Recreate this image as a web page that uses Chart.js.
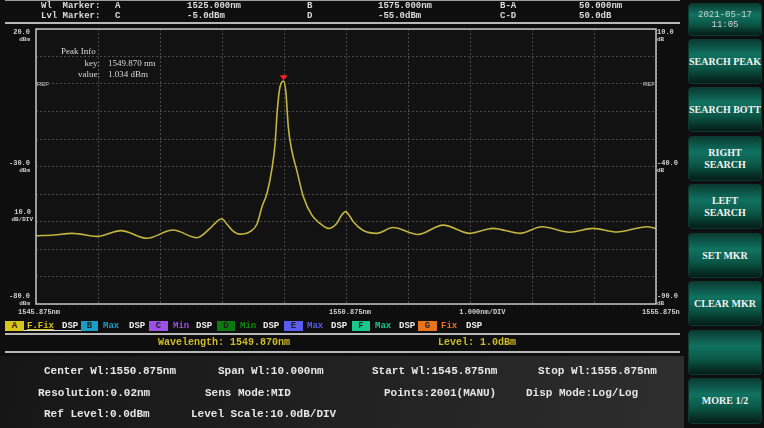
<!DOCTYPE html>
<html>
<head>
<meta charset="utf-8">
<script src="https://cdn.jsdelivr.net/npm/chart.js@4.4.0/dist/chart.umd.min.js"></script>
<style>
  html, body { margin: 0; padding: 0; }
  body { width: 764px; height: 428px; background: #0e0e0e; position: relative; overflow: hidden;
         font-family: "Liberation Mono", "DejaVu Sans Mono", monospace; color: #ddd; }
  .t { position: absolute; white-space: pre; font-weight: bold; line-height: 1; }
  .hdr { font-size: 9px; color: #dcdcdc; }
  .hline { position: absolute; height: 2px; background: #b8b8b8; }
  #chart { position: absolute; left: 0; top: 0; }
  .peak { position: absolute; font-family: "Liberation Serif", "DejaVu Serif", serif; font-size: 9px; color: #d8d8d8; line-height: 1; white-space: pre; }
  .box { position: absolute; top: 321px; height: 10px; font-size: 9px; font-weight: bold; text-align: center; line-height: 10px; color: #222; }
  .lg { position: absolute; top: 322px; font-size: 9px; font-weight: bold; line-height: 1; }
  #panel { position: absolute; left: 0; top: 356px; width: 684px; height: 72px;
           background: linear-gradient(100deg, #161616 0%, #202020 45%, #2e2e2e 100%); }
  .inf { font-size: 11px; color: #e6e6e6; }
  .btn { position: absolute; left: 688px; width: 74px; border-radius: 4px; box-sizing: border-box;
         border: 1px solid #0c3a30;
         background: linear-gradient(180deg, #0a3d33 0%, #107260 35%, #0b5747 65%, #041c17 100%);
         display: flex; align-items: center; justify-content: center; text-align: center;
         font-family: "Liberation Serif", "DejaVu Serif", serif; font-weight: bold; font-size: 10px;
         color: #f2f2f2; line-height: 12px; }
</style>
</head>
<body>
<canvas id="chart" width="680" height="330"></canvas>

<!-- header -->
<div class="hline" style="left:5px; top:0px; width:675px; height:1px; background:#9a9a9a;"></div>
<div class="t hdr" style="left:41px; top:2px;">Wl  Marker:</div>
<div class="t hdr" style="left:41px; top:12px;">Lvl Marker:</div>
<div class="t hdr" style="left:115px; top:2px;">A</div>
<div class="t hdr" style="left:115px; top:12px;">C</div>
<div class="t hdr" style="left:187px; top:2px;">1525.000nm</div>
<div class="t hdr" style="left:187px; top:12px;">-5.0dBm</div>
<div class="t hdr" style="left:307px; top:2px;">B</div>
<div class="t hdr" style="left:307px; top:12px;">D</div>
<div class="t hdr" style="left:378px; top:2px;">1575.000nm</div>
<div class="t hdr" style="left:378px; top:12px;">-55.0dBm</div>
<div class="t hdr" style="left:500px; top:2px;">B-A</div>
<div class="t hdr" style="left:500px; top:12px;">C-D</div>
<div class="t hdr" style="left:579px; top:2px;">50.000nm</div>
<div class="t hdr" style="left:579px; top:12px;">50.0dB</div>
<div class="hline" style="left:5px; top:22px; width:675px;"></div>

<!-- peak info -->
<div class="peak" style="left:61px; top:47px;">Peak Info</div>
<div class="peak" style="left:60px; top:59px; width:40px; text-align:right;">key:</div>
<div class="peak" style="left:108px; top:59px;">1549.870 nm</div>
<div class="peak" style="left:60px; top:70px; width:40px; text-align:right;">value:</div>
<div class="peak" style="left:108px; top:70px;">1.034 dBm</div>

<!-- trace legend row -->
<div class="box" style="left:5px; width:19px; background:#d8c41c;">A</div>
<div class="lg" style="left:27px; color:#d8c41c; text-decoration:underline;">F.Fix</div>
<div class="lg" style="left:62px; color:#eee;">DSP</div>
<div class="hline" style="left:24px; top:330px; width:57px; height:1px; background:#ddd;"></div>
<div class="box" style="left:81px; width:17px; background:#1a9ec8;">B</div>
<div class="lg" style="left:103px; color:#1a9ec8;">Max</div>
<div class="lg" style="left:129px; color:#eee;">DSP</div>
<div class="box" style="left:149px; width:19px; background:#9b50e6;">C</div>
<div class="lg" style="left:173px; color:#9b50e6;">Min</div>
<div class="lg" style="left:196px; color:#eee;">DSP</div>
<div class="box" style="left:217px; width:18px; background:#0c7a10;">D</div>
<div class="lg" style="left:240px; color:#0e8a12;">Min</div>
<div class="lg" style="left:263px; color:#eee;">DSP</div>
<div class="box" style="left:284px; width:19px; background:#5b5cf0;">E</div>
<div class="lg" style="left:307px; color:#5b5cf0;">Max</div>
<div class="lg" style="left:331px; color:#eee;">DSP</div>
<div class="box" style="left:352px; width:18px; background:#18c88c;">F</div>
<div class="lg" style="left:375px; color:#18c88c;">Max</div>
<div class="lg" style="left:399px; color:#eee;">DSP</div>
<div class="box" style="left:418px; width:19px; background:#e8741e;">G</div>
<div class="lg" style="left:441px; color:#e8741e;">Fix</div>
<div class="lg" style="left:466px; color:#eee;">DSP</div>
<div class="hline" style="left:5px; top:333px; width:675px;"></div>
<div class="t" style="left:158px; top:338px; font-size:10px; color:#cdbb2a;">Wavelength: 1549.870nm</div>
<div class="t" style="left:438px; top:338px; font-size:10px; color:#cdbb2a;">Level: 1.0dBm</div>
<div class="hline" style="left:5px; top:351px; width:675px;"></div>

<!-- settings panel -->
<div id="panel"></div>
<div class="t inf" style="left:44px; top:366px;">Center Wl:1550.875nm</div>
<div class="t inf" style="left:218px; top:366px;">Span Wl:10.000nm</div>
<div class="t inf" style="left:372px; top:366px;">Start Wl:1545.875nm</div>
<div class="t inf" style="left:538px; top:366px;">Stop Wl:1555.875nm</div>
<div class="t inf" style="left:38px; top:388px;">Resolution:0.02nm</div>
<div class="t inf" style="left:205px; top:388px;">Sens Mode:MID</div>
<div class="t inf" style="left:384px; top:388px;">Points:2001(MANU)</div>
<div class="t inf" style="left:526px; top:388px;">Disp Mode:Log/Log</div>
<div class="t inf" style="left:44px; top:409px;">Ref Level:0.0dBm</div>
<div class="t inf" style="left:191px; top:409px;">Level Scale:10.0dB/DIV</div>

<!-- soft keys -->
<div class="btn" style="top:3px; height:33px; font-family:'Liberation Mono',monospace; font-weight:normal; font-size:9px; color:#d0d0d0; line-height:10px;">2021-05-17<br>11:05</div>
<div class="btn" style="top:39px; height:45px;">SEARCH PEAK</div>
<div class="btn" style="top:87px; height:45px;">SEARCH BOTT</div>
<div class="btn" style="top:136px; height:45px;">RIGHT<br>SEARCH</div>
<div class="btn" style="top:184px; height:45px;">LEFT<br>SEARCH</div>
<div class="btn" style="top:233px; height:45px;">SET MKR</div>
<div class="btn" style="top:281px; height:45px;">CLEAR MKR</div>
<div class="btn" style="top:330px; height:45px;"></div>
<div class="btn" style="top:378px; height:46px;">MORE 1/2</div>

<script>
// trace A (wavelength in nm, level in dBm)
const wavelengths = [
  1545.875, 1546.165, 1546.456, 1546.859, 1547.246, 1547.665, 1548.085, 1548.472,
  1548.681, 1548.778, 1548.870, 1548.956, 1549.036, 1549.165, 1549.327, 1549.440,
  1549.520, 1549.601, 1549.677, 1549.730, 1549.767, 1549.811, 1549.870, 1549.907,
  1549.944, 1549.999, 1550.080, 1550.186, 1550.322, 1550.456, 1550.590, 1550.725,
  1550.806, 1550.870, 1550.939, 1550.993, 1551.154, 1551.370, 1551.633, 1552.036,
  1552.440, 1552.875, 1553.246, 1553.681, 1554.036, 1554.488, 1554.859, 1555.246,
  1555.730, 1555.875
];
const levels = [
  -55.2, -54.9, -54.3, -55.4, -53.3, -56.1, -53.1, -55.9,
  -52.5, -50.3, -49.0, -51.0, -53.1, -54.6, -53.7, -50.9,
  -44.6, -39.7, -31.3, -22.0, -9.5, -1.0, 1.034, -3.4,
  -15.5, -24.0, -31.3, -40.9, -47.6, -50.7, -52.5, -50.7,
  -47.6, -46.4, -48.2, -50.1, -53.3, -54.3, -52.2, -54.7,
  -51.3, -54.3, -52.5, -54.3, -51.9, -53.9, -52.5, -53.8,
  -51.9, -52.5
];
const peakWl = 1549.870;
const peakLevel = 1.034;

const startWl = 1545.875;
const stopWl = 1555.875;
const nmPerDiv = 1.0;
const refLevel = 20.0;   // top of screen, dBm
const bottomLevel = -80.0;
const dbPerDiv = 10.0;

const leftTicks = [20.0, -30.0, -80.0];   // dBm
const rightTicks = [10.0, -40.0, -90.0];  // dB
const xLabels = ["1545.875nm", "1550.875nm", "1555.875nm"];

const traceColor = "#c2b43e";
const labelColor = "#d0d0d0";

const decor = {
  id: "decor",
  afterDraw(chart) {
    const { ctx, chartArea: a, scales } = chart;
    const y = scales.y, y2 = scales.y2, x = scales.x;
    ctx.save();
    // frame
    ctx.strokeStyle = "#c4c4c4";
    ctx.lineWidth = 1.5;
    ctx.strokeRect(a.left, a.top, a.right - a.left, a.bottom - a.top);

    // peak marker: red triangle with its tip on the peak
    const px = x.getPixelForValue(peakWl);
    const py = y.getPixelForValue(peakLevel);
    ctx.fillStyle = "#ff2020";
    ctx.beginPath();
    ctx.moveTo(px, py - 1);
    ctx.lineTo(px - 4, py - 6);
    ctx.lineTo(px + 4, py - 6);
    ctx.closePath();
    ctx.fill();

    ctx.fillStyle = labelColor;
    ctx.textBaseline = "middle";
    const numY = (p) => Math.min(Math.max(p - 3, a.top + 3), a.bottom - 8);

    // left labels
    ctx.textAlign = "right";
    leftTicks.forEach((v) => {
      const p = numY(y.getPixelForValue(v));
      ctx.font = "bold 7px 'Liberation Mono', monospace";
      ctx.fillText(v.toFixed(1), 30, p);
      ctx.font = "bold 6px 'Liberation Mono', monospace";
      ctx.fillText("dBm", 30, p + 7);
    });
    const divY = y.getPixelForValue(-46.5);
    ctx.font = "bold 7px 'Liberation Mono', monospace";
    ctx.fillText(dbPerDiv.toFixed(1), 31, divY);
    ctx.font = "bold 6px 'Liberation Mono', monospace";
    ctx.fillText("dB/DIV", 33, divY + 8);

    // REF markers at 0 dBm
    const refY = y.getPixelForValue(0);
    ctx.font = "6px 'Liberation Sans', sans-serif";
    ctx.textAlign = "left";
    ctx.fillText("REF", a.left + 1, refY);
    ctx.textAlign = "right";
    ctx.fillText("REF", a.right - 1, refY);

    // right labels
    ctx.textAlign = "left";
    rightTicks.forEach((v) => {
      const p = numY(y2.getPixelForValue(v));
      ctx.font = "bold 7px 'Liberation Mono', monospace";
      ctx.fillText(v.toFixed(1), a.right + 1, p);
      ctx.font = "bold 6px 'Liberation Mono', monospace";
      ctx.fillText("dB", a.right + 1, p + 7);
    });

    // wavelength labels
    const lblY = a.bottom + 8;
    ctx.font = "bold 7px 'Liberation Mono', monospace";
    ctx.textAlign = "left";
    ctx.fillText(xLabels[0], x.getPixelForValue(startWl) - 18, lblY);
    ctx.textAlign = "center";
    ctx.fillText(xLabels[1], x.getPixelForValue((startWl + stopWl) / 2) + 4, lblY);
    ctx.fillText(nmPerDiv.toFixed(3) + "nm/DIV", x.getPixelForValue(startWl + 7.2) , lblY);
    ctx.textAlign = "left";
    ctx.fillText(xLabels[2], x.getPixelForValue(stopWl) - 14, lblY);
    ctx.restore();
  },
};

const bg = {
  id: "bg",
  beforeDraw(chart) {
    const { ctx, chartArea: a } = chart;
    ctx.save();
    ctx.fillStyle = "#121212";
    ctx.fillRect(a.left, a.top, a.right - a.left, a.bottom - a.top);
    ctx.restore();
  },
};

const gridOpts = { color: "#4a4a4a", lineWidth: 1, drawTicks: false };

new Chart(document.getElementById("chart"), {
  type: "line",
  data: {
    datasets: [
      {
        label: "A",
        data: wavelengths.map((w, i) => ({ x: w, y: levels[i] })),
        borderColor: traceColor,
        borderWidth: 1.6,
        pointRadius: 0,
        fill: false,
        cubicInterpolationMode: "monotone",
      },
    ],
  },
  options: {
    responsive: false,
    animation: false,
    events: [],
    layout: { padding: { left: 36, top: 29, right: 24, bottom: 26 } },
    plugins: { legend: { display: false }, tooltip: { enabled: false } },
    scales: {
      x: {
        type: "linear",
        min: startWl,
        max: stopWl,
        grid: gridOpts,
        border: { display: false, dash: [2, 2] },
        ticks: { display: false },
        afterBuildTicks: (s) => {
          const t = [];
          for (let v = startWl; v <= stopWl + 1e-6; v += nmPerDiv) t.push({ value: v });
          s.ticks = t;
        },
        afterFit: (s) => { s.height = 0; },
      },
      y: {
        min: bottomLevel,
        max: refLevel,
        grid: gridOpts,
        border: { display: false, dash: [2, 2] },
        ticks: { display: false, stepSize: dbPerDiv },
        afterFit: (s) => { s.width = 0; },
      },
      y2: {
        position: "right",
        min: bottomLevel - 10,
        max: refLevel - 10,
        display: true,
        grid: { display: false, drawTicks: false },
        border: { display: false },
        ticks: { display: false },
        afterFit: (s) => { s.width = 0; },
      },
    },
  },
  plugins: [bg, decor],
});
</script>
</body>
</html>
